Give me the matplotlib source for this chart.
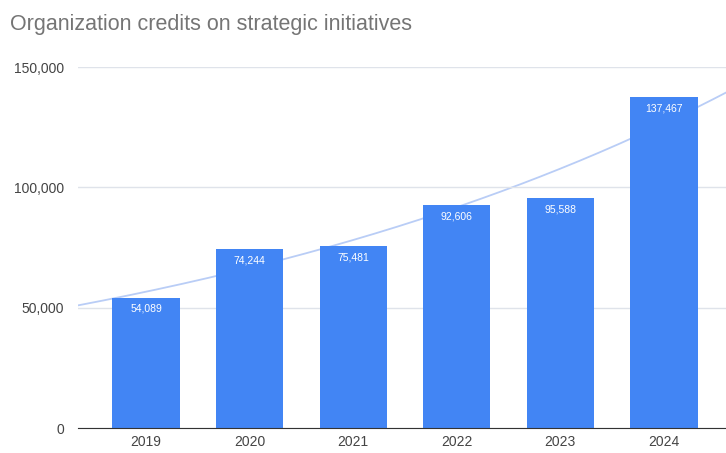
import numpy as np
import matplotlib.pyplot as plt

plt.rcParams['font.family'] = ['Liberation Sans', 'DejaVu Sans']

years = ['2019', '2020', '2021', '2022', '2023', '2024']
credits = [54089, 74244, 75481, 92606, 95588, 137467]
y_ticks = [0, 50000, 100000, 150000]

bar_color = '#4285f4'
trend_color = '#b9cdf6'

fig = plt.figure(figsize=(7.26, 4.53), dpi=100)
ax = fig.add_axes([0.107, 0.055, 0.893, 0.797])

x = np.arange(len(years))
bars = ax.bar(x, credits, width=0.65, color=bar_color, zorder=2)

# exponential trendline across the full plot width, behind the bars
xlim = (-0.66, 5.6)
b, a = np.polyfit(x, np.log(credits), 1)
xs = np.linspace(xlim[0], xlim[1], 200)
ax.plot(xs, np.exp(a + b * xs), color=trend_color, lw=1.3, zorder=1)

for rect, v in zip(bars, credits):
    ax.text(rect.get_x() + rect.get_width() / 2, v - 2500, f'{v:,}',
            ha='center', va='top', color='white', fontsize=7.5, zorder=4)

ax.set_xlim(*xlim)
ax.set_ylim(0, 150000)
ax.set_xticks(x)
ax.set_xticklabels(years)
ax.set_yticks(y_ticks)
ax.set_yticklabels([f'{t:,}' for t in y_ticks])
ax.tick_params(axis='both', length=0, labelsize=10, colors='#444444')
ax.tick_params(axis='y', pad=10)
ax.tick_params(axis='x', pad=5)
ax.grid(axis='y', color='#dfe3ea', lw=1, zorder=0)
for s in ['top', 'right', 'left']:
    ax.spines[s].set_visible(False)
ax.spines['bottom'].set_color('#333333')
ax.spines['bottom'].set_zorder(5)

fig.text(0.014, 0.945, 'Organization credits on strategic initiatives',
         fontsize=15.5, color='#757575', ha='left', va='center')

fig.savefig('out.png', dpi=100)
